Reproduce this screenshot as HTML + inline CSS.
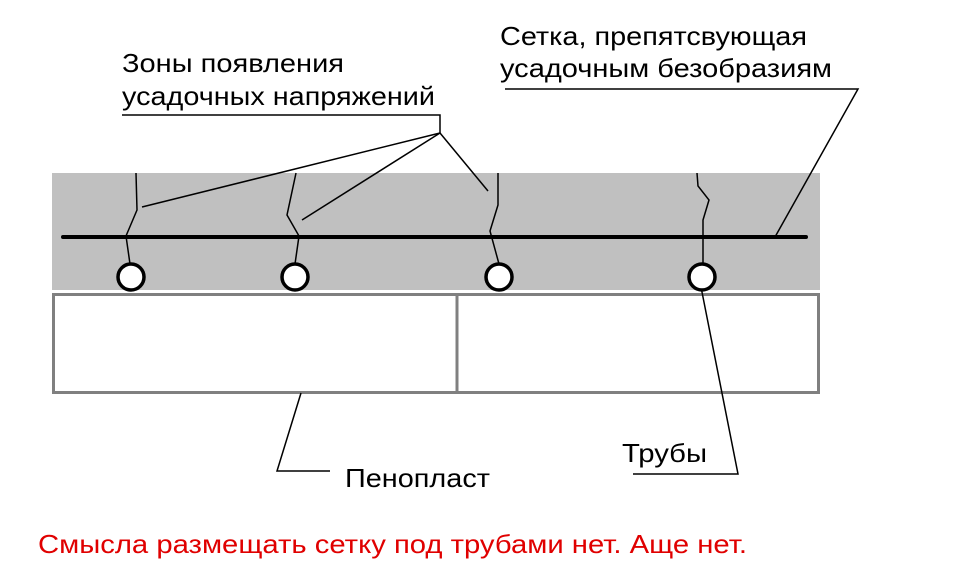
<!DOCTYPE html>
<html><head><meta charset="utf-8"><style>html,body{margin:0;padding:0;background:#fff}svg{display:block}</style></head>
<body>
<svg width="962" height="579" viewBox="0 0 962 579" xmlns="http://www.w3.org/2000/svg" font-family="Liberation Sans, Arial, sans-serif" font-size="26">
<rect x="0" y="0" width="962" height="579" fill="#fff"/>
<rect x="52" y="173" width="768" height="117" fill="#c0c0c0"/>
<rect x="53.5" y="294.5" width="765" height="98" fill="#fff" stroke="#808080" stroke-width="3"/>
<line x1="457" y1="294" x2="457" y2="393" stroke="#808080" stroke-width="3"/>
<g fill="none" stroke="#000" stroke-width="1.5">
<polyline points="136,173 137,210 126,236 130,264"/>
<polyline points="296,173 287,215 299,236 295,264"/>
<polyline points="498,173 498,205 490,231 499,264"/>
<polyline points="697,173 698,186 709,200 703,220 703,264"/>
<polyline points="122,115 440,115 440,133"/>
<line x1="440" y1="133" x2="142" y2="207"/>
<line x1="440" y1="133" x2="302" y2="220"/>
<line x1="440" y1="133" x2="488" y2="191"/>
<polyline points="505,89 858,89 775,237"/>
<polyline points="301,393 277,471 330,471"/>
<polyline points="633,474 738,474 700,282"/>
</g>
<line x1="63" y1="237" x2="806" y2="237" stroke="#000" stroke-width="4" stroke-linecap="round"/>
<g fill="#fff" stroke="#000" stroke-width="3.5">
<circle cx="131" cy="277" r="13"/>
<circle cx="295" cy="277" r="13"/>
<circle cx="499" cy="277" r="13"/>
<circle cx="702" cy="277" r="13"/>
</g>
<g fill="#000">
<text x="122" y="72" textLength="222" lengthAdjust="spacingAndGlyphs">Зоны появления</text>
<text x="122" y="105" textLength="313" lengthAdjust="spacingAndGlyphs">усадочных напряжений</text>
<text x="500" y="45" textLength="307" lengthAdjust="spacingAndGlyphs">Сетка, препятсвующая</text>
<text x="500" y="77" textLength="332" lengthAdjust="spacingAndGlyphs">усадочным безобразиям</text>
<text x="345" y="487" textLength="145" lengthAdjust="spacingAndGlyphs">Пенопласт</text>
<text x="622" y="462" textLength="85" lengthAdjust="spacingAndGlyphs">Трубы</text>
</g>
<text x="38" y="553" fill="#e00000" textLength="709" lengthAdjust="spacingAndGlyphs">Смысла размещать сетку под трубами нет. Аще нет.</text>
</svg>
</body></html>
